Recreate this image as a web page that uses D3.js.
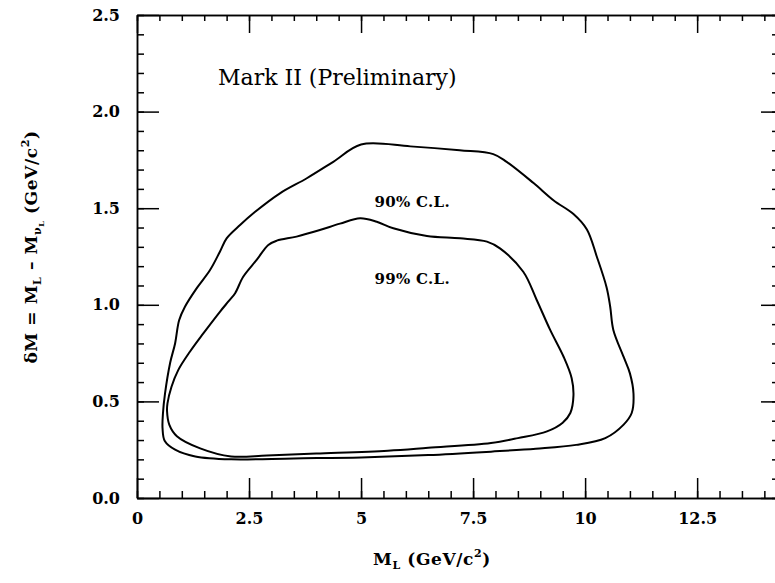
<!DOCTYPE html>
<html>
<head>
<meta charset="utf-8">
<script src="https://cdn.jsdelivr.net/npm/d3@7"></script>
<style>
  body { margin: 0; background: #fff; }
  svg { display: block; }
  .axis path, .axis line { stroke: #000; stroke-width: 1.5; }
  .axis text { font-family: "DejaVu Serif", serif; font-weight: bold; font-size: 16px; fill: #000; }
  .lbl { font-family: "DejaVu Serif", serif; font-weight: bold; fill: #000; }
</style>
</head>
<body>
<svg id="chart" width="775" height="583"></svg>
<script>
// contour points: [M_L, dM]
const cl90 = [
  [5.0, 1.83], [6.1, 1.82], [7.2, 1.80], [7.95, 1.78], [8.25, 1.74], [8.85, 1.63],
  [9.3, 1.54], [9.74, 1.47], [10.04, 1.39], [10.26, 1.25], [10.48, 1.09], [10.56, 0.99],
  [10.63, 0.87], [10.86, 0.73], [11.0, 0.645], [11.08, 0.54], [11.04, 0.44], [10.86, 0.38],
  [10.45, 0.31], [9.8, 0.275], [8.9, 0.255], [7.9, 0.24], [6.5, 0.222], [5.0, 0.21],
  [3.5, 0.205], [2.1, 0.2], [1.3, 0.215], [0.85, 0.25], [0.62, 0.295], [0.57, 0.36],
  [0.58, 0.44], [0.625, 0.54], [0.74, 0.70], [0.85, 0.80], [0.94, 0.92], [1.07, 0.99],
  [1.33, 1.085], [1.63, 1.18], [1.85, 1.275], [2.0, 1.344], [2.3, 1.413], [2.63, 1.48],
  [3.19, 1.577], [3.79, 1.655], [4.38, 1.74]
]

const cl99 = [
  [4.98, 1.448], [5.35, 1.43], [5.72, 1.396], [6.47, 1.356], [7.21, 1.344], [7.81, 1.327],
  [8.1, 1.292], [8.62, 1.171], [8.92, 1.025], [9.22, 0.87], [9.52, 0.731], [9.70, 0.62],
  [9.74, 0.53], [9.67, 0.44], [9.5, 0.39], [9.15, 0.345], [8.5, 0.31], [7.9, 0.285],
  [6.5, 0.26], [5.6, 0.245], [4.0, 0.23], [2.9, 0.22], [2.1, 0.215], [1.41, 0.257],
  [0.89, 0.32], [0.72, 0.38], [0.67, 0.45], [0.68, 0.49], [0.77, 0.576], [0.92, 0.662],
  [1.18, 0.757], [1.48, 0.852], [1.85, 0.964], [2.05, 1.02], [2.19, 1.06], [2.37, 1.145],
  [2.67, 1.232], [2.93, 1.31], [3.12, 1.332], [3.56, 1.353], [4.08, 1.387], [4.53, 1.42]
]

const xMajor = [0, 2.5, 5, 7.5, 10, 12.5]
const xMinor = d3.range(0, 14.26, 0.5)
const yMajor = [0, 0.5, 1.0, 1.5, 2.0, 2.5]
const yMinor = d3.range(0, 2.51, 0.1)

const contourLabels = [
  {text: "90% C.L.", x: 5.3, y: 1.505},
  {text: "99% C.L.", x: 5.3, y: 1.11}
]

const svg = d3.select('#chart')

const x = d3.scaleLinear().domain([0, 14.26]).range([137, 776])
const y = d3.scaleLinear().domain([0, 2.5]).range([498, 15])

// minor ticks first, then major ticks with labels
const addAxis = (axis, tr) => svg.append('g')
  .attr('class', 'axis')
  .attr('transform', tr)
  .call(axis)

addAxis(d3.axisBottom(x).tickValues(xMinor).tickSize(-7).tickSizeOuter(0).tickFormat(''), `translate(0,${y(0)})`)
addAxis(d3.axisTop(x).tickValues(xMinor).tickSize(-6).tickSizeOuter(0).tickFormat(''), `translate(0,${y(2.5)})`)
addAxis(d3.axisLeft(y).tickValues(yMinor).tickSize(-7).tickSizeOuter(0).tickFormat(''), `translate(${x(0)},0)`)
addAxis(d3.axisRight(y).tickValues(yMinor).tickSize(-4).tickSizeOuter(0).tickFormat(''), `translate(${x(14.26)},0)`)

addAxis(d3.axisBottom(x).tickValues(xMajor).tickSize(-20).tickSizeOuter(0).tickPadding(15).tickFormat(d3.format('')), `translate(0,${y(0)})`)
addAxis(d3.axisTop(x).tickValues(xMajor).tickSize(-18).tickSizeOuter(0).tickFormat(''), `translate(0,${y(2.5)})`)
addAxis(d3.axisLeft(y).tickValues(yMajor).tickSize(-22).tickSizeOuter(0).tickPadding(17).tickFormat(d3.format('.1f')), `translate(${x(0)},0)`)
addAxis(d3.axisRight(y).tickValues(yMajor).tickSize(-15).tickSizeOuter(0).tickFormat(''), `translate(${x(14.26)},0)`)

// contours
const line = d3.line()
  .x(d => x(d[0]))
  .y(d => y(d[1]))
  .curve(d3.curveCatmullRomClosed.alpha(0.5))

svg.selectAll('path.contour')
  .data([cl90, cl99])
  .enter()
  .append('path')
  .attr('class', 'contour')
  .attr('d', line)
  .attr('fill', 'none')
  .attr('stroke', '#000')
  .attr('stroke-width', 2)

svg.selectAll('text.cl')
  .data(contourLabels)
  .enter()
  .append('text')
  .attr('class', 'lbl cl')
  .attr('x', d => x(d.x))
  .attr('y', d => y(d.y))
  .attr('font-size', 15)
  .attr('letter-spacing', 0.3)
  .text(d => d.text)

// title inside the frame
svg.append('text')
  .attr('x', 218)
  .attr('y', 85)
  .attr('font-family', '"DejaVu Serif", serif')
  .attr('font-size', 22)
  .text('Mark II (Preliminary)')

// x axis title
const xt = svg.append('text')
  .attr('class', 'lbl')
  .attr('x', 432)
  .attr('y', 565)
  .attr('text-anchor', 'middle')
  .attr('font-size', 17)
  .attr('letter-spacing', 0.6)
xt.append('tspan').text('M')
xt.append('tspan').attr('font-size', 11).attr('dy', 4).text('L')
xt.append('tspan').attr('dy', -4).text('\u00a0(GeV/c')
xt.append('tspan').attr('font-size', 11).attr('dy', -8).text('2')
xt.append('tspan').attr('dy', 8).text(')')

// y axis title
const yt = svg.append('text')
  .attr('class', 'lbl')
  .attr('transform', 'translate(37,247) rotate(-90)')
  .attr('text-anchor', 'middle')
  .attr('font-size', 17)
  .attr('letter-spacing', 0.6)
yt.append('tspan').text('\u03b4M = M')
yt.append('tspan').attr('font-size', 11).attr('dy', 4).text('L')
yt.append('tspan').attr('dy', -4).text(' \u2013 M')
yt.append('tspan').attr('font-size', 11).attr('dy', 4).text('\u03bd')
yt.append('tspan').attr('font-size', 8).attr('dy', 3).text('L')
yt.append('tspan').attr('dy', -7).text('\u00a0(GeV/c')
yt.append('tspan').attr('font-size', 11).attr('dy', -8).text('2')
yt.append('tspan').attr('dy', 8).text(')')
</script>
</body>
</html>
